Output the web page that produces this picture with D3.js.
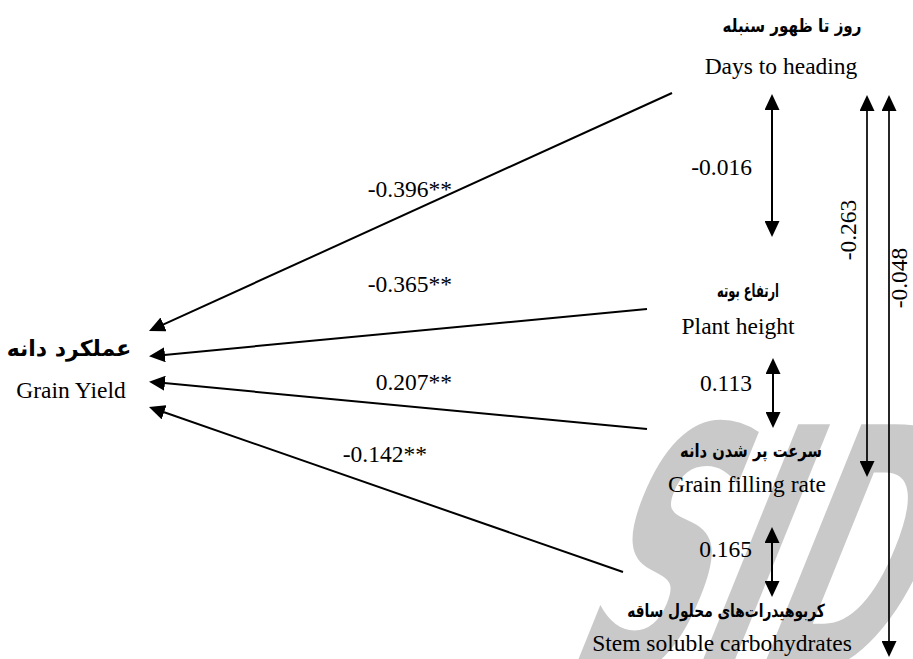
<!DOCTYPE html>
<html>
<head>
<meta charset="utf-8">
<script src="https://cdn.jsdelivr.net/npm/d3@7"></script>
<style>
  html, body { margin: 0; padding: 0; background: #fff; }
  svg { display: block; }
</style>
</head>
<body>
<svg id="chart" width="913" height="659"></svg>
<script>
// Trait names (English and Persian)
const traitsEn = ["Days to heading", "Plant height", "Grain filling rate", "Stem soluble carbohydrates"];
const traitsFa = ["روز تا ظهور سنبله", "ارتفاع بوته", "سرعت پر شدن دانه", "کربوهیدرات‌های محلول ساقه"];
const targetEn = "Grain Yield";
const targetFa = "عملکرد دانه";

// Direct path coefficients on grain yield
const pathCoef = [-0.396, -0.365, 0.207, -0.142];
const pathSig = ["**", "**", "**", "**"];

// Correlations between the causal traits
const corrFrom = ["Days to heading", "Plant height", "Grain filling rate", "Days to heading", "Days to heading"];
const corrTo = ["Plant height", "Grain filling rate", "Stem soluble carbohydrates", "Grain filling rate", "Stem soluble carbohydrates"];
const corrValues = [-0.016, 0.113, 0.165, -0.263, -0.048];

// plain hyphen for negatives
const fmt = d3.formatLocale({ decimal: ".", thousands: ",", grouping: [3], currency: ["", ""], minus: "-" }).format(".3f");
const svg = d3.select("#chart");

// ---- layout scales ----
// arrow tips converging on the yield node
const tipY = d3.scalePoint().domain(traitsEn).range([331, 407]);
const tipX = 149;
// where each trait's path arrow leaves its node
const tailX = d3.scaleOrdinal().domain(traitsEn).range([672, 647, 647, 623]);
const tailY = d3.scaleOrdinal().domain(traitsEn).range([93, 309, 429, 572]);
// coefficient label placement (right edge, baseline)
const coefX = d3.scaleOrdinal().domain(traitsEn).range([452, 452, 452, 427]);
const coefY = d3.scaleOrdinal().domain(traitsEn).range([197, 292, 390, 462]);
// node label placement
const faX = d3.scaleOrdinal().domain(traitsEn).range([792, 748, 751, 726]);
const faY = d3.scaleOrdinal().domain(traitsEn).range([32, 297, 457, 617]);
const faW = d3.scaleOrdinal().domain(traitsEn).range([139, 62, 142, 198]);
const enX = d3.scaleOrdinal().domain(traitsEn).range([781, 738, 747, 722]);
const enY = d3.scaleOrdinal().domain(traitsEn).range([74, 334, 492, 651]);
// correlation arrows: column x and vertical extent at each node
const corrKey = corrFrom.map((f, i) => f + "|" + corrTo[i]);
const corrX = d3.scaleOrdinal().domain(corrKey).range([772, 773, 772, 867, 889]);
const corrTop = d3.scaleOrdinal().domain(corrKey).range([94, 358, 527, 95, 95]);
const corrBot = d3.scaleOrdinal().domain(corrKey).range([237, 428, 597, 477, 657]);
const corrLabelX = d3.scaleOrdinal().domain(corrKey).range([752, 752, 752, 856, 907]);
const corrLabelY = d3.scaleOrdinal().domain(corrKey).range([175, 391, 557, 230, 278]);

const serif = "'Liberation Serif', 'Times New Roman', serif";
const faFont = "'DejaVu Sans', sans-serif";

// ---- watermark ----
svg.append("text")
  .attr("transform", "translate(560,672) skewX(-22) scale(0.5,1)")
  .attr("font-family", "'DejaVu Sans', sans-serif")
  .attr("font-weight", "bold")
  .attr("font-size", 340)
  .attr("fill", "#c9c9c9")
  .text("SID");

// ---- arrowhead ----
svg.append("defs").append("marker")
  .attr("id", "head")
  .attr("markerUnits", "userSpaceOnUse")
  .attr("viewBox", "0 0 16 15")
  .attr("markerWidth", 16)
  .attr("markerHeight", 15)
  .attr("refX", 6)
  .attr("refY", 7.5)
  .attr("orient", "auto-start-reverse")
  .append("path")
  .attr("d", "M0,0 L16,7.5 L0,15 Z")
  .attr("fill", "#000");

// shorten a segment so the marker tip lands on the given point
function pull(x1, y1, x2, y2, d) {
  const len = Math.hypot(x2 - x1, y2 - y1);
  return [x2 - (x2 - x1) / len * d, y2 - (y2 - y1) / len * d];
}

// ---- path arrows to grain yield ----
const paths = traitsEn.map((t, i) => ({ trait: t, coef: pathCoef[i], sig: pathSig[i] }));
svg.append("g").selectAll("line").data(paths).join("line")
  .each(function (d) {
    const [ex, ey] = pull(tailX(d.trait), tailY(d.trait), tipX, tipY(d.trait), 10);
    d3.select(this)
      .attr("x1", tailX(d.trait)).attr("y1", tailY(d.trait))
      .attr("x2", ex).attr("y2", ey);
  })
  .attr("stroke", "#000")
  .attr("stroke-width", 2)
  .attr("marker-end", "url(#head)");

svg.append("g").selectAll("text").data(paths).join("text")
  .attr("x", d => coefX(d.trait))
  .attr("y", d => coefY(d.trait))
  .attr("text-anchor", "end")
  .attr("font-family", serif)
  .attr("font-size", 23.5)
  .text(d => fmt(d.coef) + d.sig);

// ---- correlation arrows ----
const corrs = corrKey.map((k, i) => ({ key: k, r: corrValues[i], long: i >= 3 }));
svg.append("g").selectAll("line").data(corrs).join("line")
  .attr("x1", d => corrX(d.key)).attr("x2", d => corrX(d.key))
  .attr("y1", d => corrTop(d.key) + 10)
  .attr("y2", d => corrBot(d.key) - 10)
  .attr("stroke", "#000")
  .attr("stroke-width", d => d.long ? 1.7 : 2)
  .attr("marker-start", "url(#head)")
  .attr("marker-end", "url(#head)");

// labels: horizontal beside the short arrows, rotated beside the long ones
svg.append("g").selectAll("text").data(corrs).join("text")
  .attr("transform", d => d.long
    ? `translate(${corrLabelX(d.key)},${corrLabelY(d.key)}) rotate(-90)`
    : `translate(${corrLabelX(d.key)},${corrLabelY(d.key)})`)
  .attr("text-anchor", d => d.long ? "middle" : "end")
  .attr("font-family", serif)
  .attr("font-size", 23.5)
  .text(d => fmt(d.r));

// ---- node labels ----
const nodes = svg.append("g");
nodes.selectAll("text.fa").data(traitsEn.map((t, i) => ({ t, fa: traitsFa[i] }))).join("text")
  .attr("class", "fa")
  .attr("text-anchor", "middle")
  .attr("direction", "rtl")
  .attr("font-family", faFont)
  .attr("font-weight", "bold")
  .attr("font-size", 18)
  .text(d => d.fa)
  .attr("transform", function (d) {
    const w = this.getComputedTextLength();
    const sx = Math.min(1, faW(d.t) / w);
    return `translate(${faX(d.t)},${faY(d.t)}) scale(${sx},1)`;
  });

nodes.selectAll("text.en").data(traitsEn).join("text")
  .attr("class", "en")
  .attr("x", d => enX(d)).attr("y", d => enY(d))
  .attr("text-anchor", "middle")
  .attr("font-family", serif)
  .attr("font-size", 23.5)
  .text(d => d);

nodes.append("text")
  .attr("x", 69).attr("y", 356)
  .attr("text-anchor", "middle")
  .attr("direction", "rtl")
  .attr("font-family", faFont)
  .attr("font-weight", "bold")
  .attr("font-size", 22)
  .text(targetFa);

nodes.append("text")
  .attr("x", 71).attr("y", 398)
  .attr("text-anchor", "middle")
  .attr("font-family", serif)
  .attr("font-size", 23.5)
  .text(targetEn);
</script>
</body>
</html>
